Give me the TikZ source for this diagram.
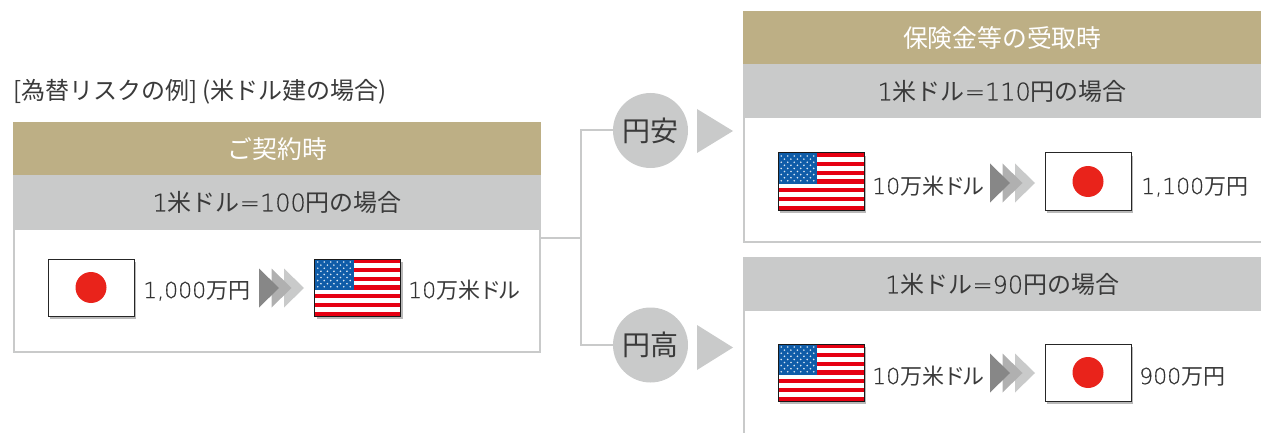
\documentclass[tikz,border=0pt]{standalone}
\usepackage{fontspec}
\setmainfont{Noto Sans CJK JP}
\newfontfamily\numf[FakeBold=0.5,Color=333333]{DejaVu Sans ExtraLight}
\newcommand{\usdlbl}{{\numf 10}万米\kern-1pt ド\kern-2.5pt ル}
\usetikzlibrary{calc}
\usetikzlibrary{shadows}
\definecolor{goldc}{HTML}{BDAF85}
\definecolor{greyc}{HTML}{C9CACA}
\definecolor{inkc}{HTML}{3A3A3A}
\definecolor{flagred}{HTML}{E60012}
\definecolor{sunred}{HTML}{E9231B}
\definecolor{flagblue}{HTML}{0F5CA8}
\tikzset{
    band/.style = {anchor=north west, inner sep=0pt, text centered, text=inkc,
        font=\fontsize{24}{24}\selectfont, minimum height=54pt},
    hdr_g/.style = {band, fill=goldc, text=white, minimum height=53pt,
        font=\fontsize{24.8}{25}\selectfont},% gold title
    hdr_s/.style = {band, fill=greyc},% rate line
    lbl/.style = {anchor=west, inner sep=0pt, text=inkc, text height=16pt, text depth=2pt,
        font=\fontsize{22}{22}\selectfont},
    frame_l/.style = {draw=greyc, line width=2pt},
    circ_n/.style = {circle, fill=greyc, text=inkc, inner sep=0pt,
        minimum size=75pt, font=\fontsize{28}{28}\selectfont},
    tri_n/.style = {fill=greyc},
    flagshadow/.style = {drop shadow={shadow xshift=2pt, shadow yshift=-3pt, opacity=.55}},
    jpflag/.pic = {
        \fill [white, flagshadow] (0,0) rectangle (86,57);
        \fill [sunred] (43,28.5) circle (15.5);
        \draw [black!85, line width=1pt] (0,0) rectangle (86,57);
    },
    usflag/.pic = {
        \fill [white, flagshadow] (0,0) rectangle (86,57);
        \foreach \i in {0,2,...,12}
            \fill [flagred] (0,{\i*57/13}) rectangle (86,{(\i+1)*57/13});
        \fill [flagblue] (0,0) rectangle (39,{7*57/13});
        \foreach \r in {0,2,...,8}
            \foreach \c in {0,...,5}
                \fill [white!85!flagblue] ({3.2+\c*6.5},{3+\r*3.1}) circle (.9);
        \foreach \r in {1,3,...,7}
            \foreach \c in {0,...,4}
                \fill [white!85!flagblue] ({6.4+\c*6.5},{3+\r*3.1}) circle (.9);
        \draw [black!90, line width=1pt] (0,0) rectangle (86,57);
    },
    chevrons/.pic = {
        \fill [greyc] (25,-19.5) -- (45,0) -- (25,19.5) -- cycle;
        \fill [black!31] (12.5,-19.5) -- (32.5,0) -- (12.5,19.5) -- cycle;
        \fill [black!47] (0,-19.5) -- (20,0) -- (0,19.5) -- cycle;
    },
}

\begin{document}
\begin{tikzpicture}[x=1pt,y=-1pt]
\useasboundingbox (0,0) rectangle (1261,433);
% left side
\node [lbl, font=\fontsize{24}{24}\selectfont] (title) at (13,93) {[為替リスクの例] (米ドル建の場合)};
\node [anchor=north west, frame_l, outer sep=0pt, inner sep=0pt, minimum width=526pt, minimum height=123pt] (body_now) at (14,229) {};
\node [hdr_g, minimum width=528pt] (hdr_now) at (13,122) {ご契約時};
\node [hdr_s, minimum width=528pt] (rate_now) at (13,175) {{\numf 1}米ドル{\numf =100}円の場合};
\pic at (48,259) {jpflag};
\node [lbl] (yen_now) at (143,291) {{\numf 1,000}万円};
\pic at (259,288) {chevrons};
\pic at (314.5,259) {usflag};
\node [lbl] (usd_now) at (408,291) {\usdlbl};
% branches
\coordinate (tee) at (540,238);
\coordinate (fork) at (581,238);
\node [circ_n] (yasu) at (650.5,130.5) {円安};
\node [circ_n] (daka) at (650.5,345) {円高};
\draw [frame_l] (tee) -- (fork) |- (yasu);
\draw [frame_l] (fork) |- (daka);
\fill [tri_n] (697,109) -- (733,131) -- (697,153) -- cycle;
\fill [tri_n] (697,325) -- (733,347.5) -- (697,370) -- cycle;
% upper right
\draw [frame_l] (744,118) |- (1261,242);
\node [hdr_g, minimum width=518pt] (hdr_pay) at (743,11) {保険金等の受取時};
\node [hdr_s, minimum width=518pt] (rate_up) at (743,64) {{\numf 1}米ドル{\numf =110}円の場合};
\pic at (778,153) {usflag};
\node [lbl] (usd_up) at (872,187) {\usdlbl};
\pic at (990,183) {chevrons};
\pic at (1045,153) {jpflag};
\node [lbl] (yen_up) at (1141,187) {{\numf 1,100}万円};
% lower right
\draw [frame_l] (744,311) -- (744,433);
\node [hdr_s, minimum width=518pt] (rate_dn) at (743,257) {{\numf 1}米ドル{\numf =90}円の場合};
\pic at (778,344) {usflag};
\node [lbl] (usd_dn) at (872,377) {\usdlbl};
\pic at (990,373) {chevrons};
\pic at (1045,344) {jpflag};
\node [lbl] (yen_dn) at (1139,377) {{\numf 900}万円};
\end{tikzpicture}
\end{document}
